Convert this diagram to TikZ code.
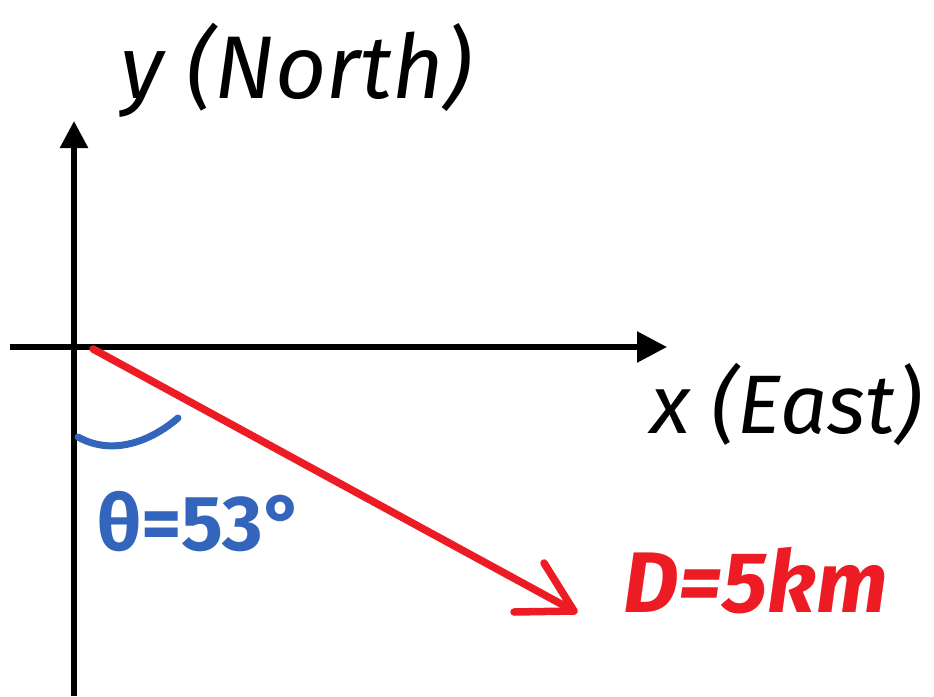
\documentclass[tikz,border=0pt]{standalone}
\usepackage{fontspec}
\setmainfont{Fira Sans}
\usetikzlibrary{arrows.meta}
\definecolor{penred}{HTML}{ED1C24}
\definecolor{penblue}{HTML}{3265BB}
\begin{document}
\begin{tikzpicture}[x=1pt,y=-1pt,
  axisline/.style={line width=5.5pt,draw=black},
  vecline/.style={line width=7.5pt,draw=penred,line cap=round,line join=round},
  anglearc/.style={line width=7pt,draw=penblue,line cap=round},
  blacklabel/.style={anchor=base west,inner sep=0pt,font=\fontsize{89}{96}\selectfont\itshape,text=black},
  blacklabelx/.style={blacklabel,font=\fontsize{83}{90}\selectfont\itshape},
  redlabel/.style={anchor=base west,inner sep=0pt,font=\fontsize{86}{90}\selectfont\bfseries\itshape,text=penred},
  bluelabel/.style={anchor=base west,inner sep=0pt,font=\fontsize{78}{90}\selectfont\bfseries,text=penblue}]
\useasboundingbox (0,0) rectangle (934,696);
% axes
\coordinate (xs) at (10,347);
\coordinate (xe) at (667,347);
\coordinate (ys) at (74,696);
\coordinate (ye) at (74,121);
\draw[axisline,-{Triangle[length=30pt,width=30pt]}] (xs) -- (xe);
\draw[axisline,-{Triangle[length=27pt,width=27pt]}] (ys) -- (ye);
% displacement vector
\coordinate (o) at (93,349);
\coordinate (p) at (574,611);
\coordinate (h1) at (544,563);
\coordinate (h2) at (514,612);
\draw[vecline] (o) -- (p);
\draw[vecline] (h1) -- (p) -- (h2);
% angle arc
\coordinate (a0) at (78,437);
\coordinate (a1) at (178,418);
\draw[anglearc] (a0) .. controls (112,456) and (150,442) .. (a1);
% labels
\node[blacklabel] (ylab) at (120,98) {y (North)};
\node[blacklabelx] (xlab) at (650,433) {x (East)};
\node[bluelabel] (thlab) at (97,550) {θ=53°};
\node[redlabel] (dlab) at (623,612) {D=5km};
\end{tikzpicture}
\end{document}
